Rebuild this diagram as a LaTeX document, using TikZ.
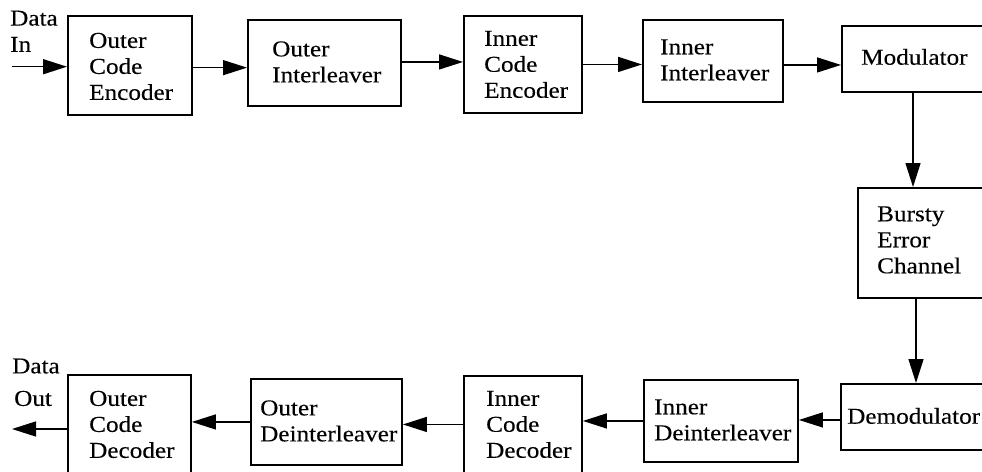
\documentclass[tikz,border=0pt]{standalone}
\usepackage{fontspec}
\setmainfont{Liberation Serif}[FakeStretch=1.11,FakeBold=0.25]
\usetikzlibrary{arrows.meta,calc}
\begin{document}
\begin{tikzpicture}[x=1pt,y=-1pt,
  box/.style={draw=black, line width=1.9pt, anchor=north west, inner sep=0pt},
  lbl/.style={align=left, inner sep=0pt, anchor=west, font=\fontsize{22.7}{26}\selectfont},
  io/.style={align=left, inner sep=0pt, anchor=north west, font=\fontsize{22.7}{26.3}\selectfont},
  arr/.style={line width=1.4pt, -{Triangle[length=24pt,width=15pt]}}]
\useasboundingbox (0,0) rectangle (982,471);
% top row
\node[box, minimum width=124, minimum height=99] (oce) at (67,15) {};
\node[lbl] (oceT) at ($(oce.west)+(22,1)$) {Outer\\Code\\Encoder};
\node[box, minimum width=153, minimum height=86] (oi) at (247,19) {};
\node[lbl] (oiT) at ($(oi.west)+(25,-1)$) {Outer\\Interleaver};
\node[box, minimum width=118, minimum height=97] (ice) at (463,15) {};
\node[lbl] (iceT) at ($(ice.west)+(21,0)$) {Inner\\Code\\Encoder};
\node[box, minimum width=140, minimum height=82] (ii) at (642,19) {};
\node[lbl] (iiT) at ($(ii.west)+(18,-1)$) {Inner\\Interleaver};
\node[box, minimum width=170, minimum height=66] (mod) at (841,25) {};
\node[lbl] (modT) at ($(mod.west)+(20,-2)$) {Modulator};
% channel
\node[box, minimum width=160, minimum height=110] (bec) at (857,187) {};
\node[lbl] (becT) at ($(bec.west)+(20,-3)$) {Bursty\\Error\\Channel};
% bottom row
\node[box, minimum width=170, minimum height=66] (dem) at (840,383) {};
\node[lbl] (demT) at ($(dem.west)+(7,-1)$) {Demodulator};
\node[box, minimum width=154, minimum height=82] (idi) at (643,379) {};
\node[lbl] (idiT) at ($(idi.west)+(11,-1)$) {Inner\\Deinterleaver};
\node[box, minimum width=118, minimum height=101] (icd) at (463,375) {};
\node[lbl] (icdT) at ($(icd.west)+(23,-2)$) {Inner\\Code\\Decoder};
\node[box, minimum width=151, minimum height=86] (odi) at (250,378) {};
\node[lbl] (odiT) at ($(odi.west)+(10,-1)$) {Outer\\Deinterleaver};
\node[box, minimum width=123, minimum height=102] (ocd) at (67,374) {};
\node[lbl] (ocdT) at ($(ocd.west)+(22,-1.5)$) {Outer\\Code\\Decoder};
% io labels
\node[io] (din) at (10,10.5) {Data\\In};
\node[io] (dout) at (12,358.3) {Data\\[6.2pt]\hspace*{2pt}Out};
\coordinate (inS) at (12,66.7);
\coordinate (outE) at (12,429);
% connectors
\draw[arr] (inS) -- (inS -| oce.west);
\draw[arr] ($(oce.east)+(0,2.2)$) -- ($(oce.east -| oi.west)+(0,2.2)$);
\draw[arr] ($(oi.east)+(0,-1)$) -- ($(oi.east -| ice.west)+(0,-1)$);
\draw[arr] (ice.east) -- (ice.east -| ii.west);
\draw[arr] ($(ii.east)+(0,4)$) -- ($(ii.east -| mod.west)+(0,4)$);
\draw[arr] ($(mod.south west)+(72,0)$) -- ($(mod.south west |- bec.north)+(72,0)$);
\draw[arr] ($(bec.south west)+(59,0)$) -- ($(bec.south west |- dem.north)+(59,0)$);
\draw[arr] ($(dem.west)+(0,3)$) -- ($(dem.west -| idi.east)+(0,3)$);
\draw[arr] (idi.west) -- (idi.west -| icd.east);
\draw[arr] ($(icd.west)+(0,-2)$) -- ($(icd.west -| odi.east)+(0,-2)$);
\draw[arr] (odi.west) -- (odi.west -| ocd.east);
\draw[arr] (outE -| ocd.west) -- (outE);
\end{tikzpicture}
\end{document}
